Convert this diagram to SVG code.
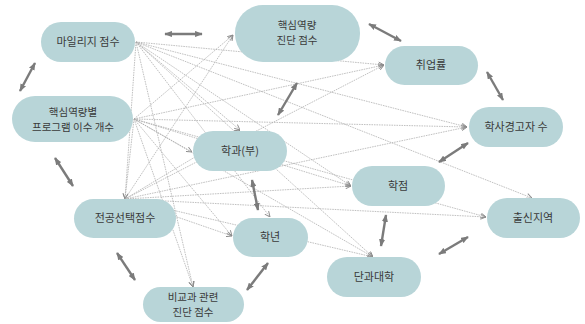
<svg xmlns="http://www.w3.org/2000/svg" width="585" height="324" viewBox="0 0 585 324">
<style>
.node{fill:#b8d5d8}
.lbl{font-family:"Noto Sans CJK KR","Noto Sans",sans-serif;font-size:11px;fill:#3a3a3a;text-anchor:middle}
.lbl2{font-family:"Noto Sans CJK KR","Noto Sans",sans-serif;font-size:10.5px;fill:#3a3a3a;text-anchor:middle}
.thin{stroke:#a6a6a6;stroke-width:0.7;stroke-dasharray:1.6 0.9;fill:none;marker-end:url(#ah)}
.thick{stroke:#7b7b7b;stroke-width:2.4;fill:none;marker-start:url(#tk);marker-end:url(#tk)}
</style>
<defs>
<marker id="ah" viewBox="0 0 6 6" refX="6" refY="3" markerWidth="6" markerHeight="6" markerUnits="userSpaceOnUse" orient="auto">
<path d="M0.5,0.5 L6,3 L0.5,5.5" fill="none" stroke="#8a8a8a" stroke-width="0.9"/>
</marker>
<marker id="tk" viewBox="0 0 10 8" refX="9" refY="4" markerWidth="3.2" markerHeight="2.6" orient="auto-start-reverse">
<path d="M0,0 L10,4 L0,8 Z" fill="#7b7b7b"/>
</marker>
</defs>
<g id="connectors">
<line class="thin" x1="136" y1="42" x2="384" y2="65"/>
<line class="thin" x1="136" y1="42" x2="467" y2="127"/>
<line class="thin" x1="136" y1="42" x2="532" y2="198"/>
<line class="thin" x1="136" y1="42" x2="240" y2="130"/>
<line class="thin" x1="136" y1="42" x2="351" y2="186"/>
<line class="thin" x1="136" y1="42" x2="270" y2="217"/>
<line class="thin" x1="136" y1="42" x2="373" y2="257"/>
<line class="thin" x1="136" y1="42" x2="193" y2="287"/>
<line class="thin" x1="136" y1="42" x2="125" y2="199"/>
<line class="thin" x1="134" y1="119" x2="233" y2="35"/>
<line class="thin" x1="134" y1="119" x2="384" y2="65"/>
<line class="thin" x1="134" y1="119" x2="467" y2="127"/>
<line class="thin" x1="134" y1="119" x2="192" y2="152"/>
<line class="thin" x1="134" y1="119" x2="351" y2="186"/>
<line class="thin" x1="134" y1="119" x2="486" y2="217"/>
<line class="thin" x1="134" y1="119" x2="232" y2="236"/>
<line class="thin" x1="134" y1="119" x2="373" y2="257"/>
<line class="thin" x1="134" y1="119" x2="193" y2="287"/>
<line class="thin" x1="134" y1="119" x2="125" y2="199"/>
<line class="thin" x1="125" y1="199" x2="233" y2="35"/>
<line class="thin" x1="125" y1="199" x2="384" y2="65"/>
<line class="thin" x1="125" y1="199" x2="467" y2="127"/>
<line class="thin" x1="125" y1="199" x2="240" y2="130"/>
<line class="thin" x1="125" y1="199" x2="351" y2="186"/>
<line class="thin" x1="125" y1="199" x2="486" y2="217"/>
<line class="thin" x1="125" y1="199" x2="232" y2="236"/>
<line class="thin" x1="125" y1="199" x2="373" y2="257"/>
<line class="thick" x1="165" y1="34" x2="202" y2="34"/>
<line class="thick" x1="35" y1="63" x2="20" y2="91"/>
<line class="thick" x1="55" y1="158" x2="73" y2="186"/>
<line class="thick" x1="117" y1="253" x2="135" y2="280"/>
<line class="thick" x1="247" y1="290" x2="268" y2="263"/>
<line class="thick" x1="252" y1="180" x2="258" y2="210"/>
<line class="thick" x1="297" y1="83" x2="278" y2="115"/>
<line class="thick" x1="369" y1="24" x2="401" y2="41"/>
<line class="thick" x1="487" y1="72" x2="503" y2="100"/>
<line class="thick" x1="468" y1="143" x2="439" y2="162"/>
<line class="thick" x1="386" y1="215" x2="381" y2="246"/>
<line class="thick" x1="468" y1="237" x2="439" y2="254"/>
</g>
<g id="mileage"><rect class="node" x="41" y="22" width="94" height="40" rx="20"/><text class="lbl" x="88" y="46">마일리지 점수</text></g>
<g id="program"><rect class="node" x="12" y="96" width="121" height="46" rx="23"/><text class="lbl2" x="73" y="116">핵심역량별</text><text class="lbl2" x="73" y="131">프로그램 이수 개수</text></g>
<g id="core"><rect class="node" x="235" y="5" width="125" height="57" rx="28"/><text class="lbl2" x="297" y="29">핵심역량</text><text class="lbl2" x="297" y="44">진단 점수</text></g>
<g id="employment"><rect class="node" x="385" y="46" width="93" height="39" rx="19.5"/><text class="lbl" x="431" y="69">취업률</text></g>
<g id="warning"><rect class="node" x="469" y="107" width="94" height="40" rx="20"/><text class="lbl" x="516" y="131">학사경고자 수</text></g>
<g id="dept"><rect class="node" x="193" y="131" width="94" height="40" rx="20"/><text class="lbl" x="240" y="155">학과(부)</text></g>
<g id="gpa"><rect class="node" x="352" y="166" width="93" height="40" rx="20"/><text class="lbl" x="398" y="190">학점</text></g>
<g id="region"><rect class="node" x="487" y="198" width="93" height="40" rx="20"/><text class="lbl" x="533" y="222">출신지역</text></g>
<g id="major"><rect class="node" x="74" y="199" width="102" height="39" rx="19.5"/><text class="lbl" x="125" y="222">전공선택점수</text></g>
<g id="year"><rect class="node" x="233" y="218" width="75" height="39" rx="19.5"/><text class="lbl" x="270" y="241">학년</text></g>
<g id="college"><rect class="node" x="327" y="257" width="94" height="40" rx="20"/><text class="lbl" x="374" y="281">단과대학</text></g>
<g id="extra"><rect class="node" x="143" y="287" width="101" height="35" rx="17.5"/><text class="lbl2" x="193" y="301">비교과 관련</text><text class="lbl2" x="193" y="316">진단 점수</text></g>
</svg>
